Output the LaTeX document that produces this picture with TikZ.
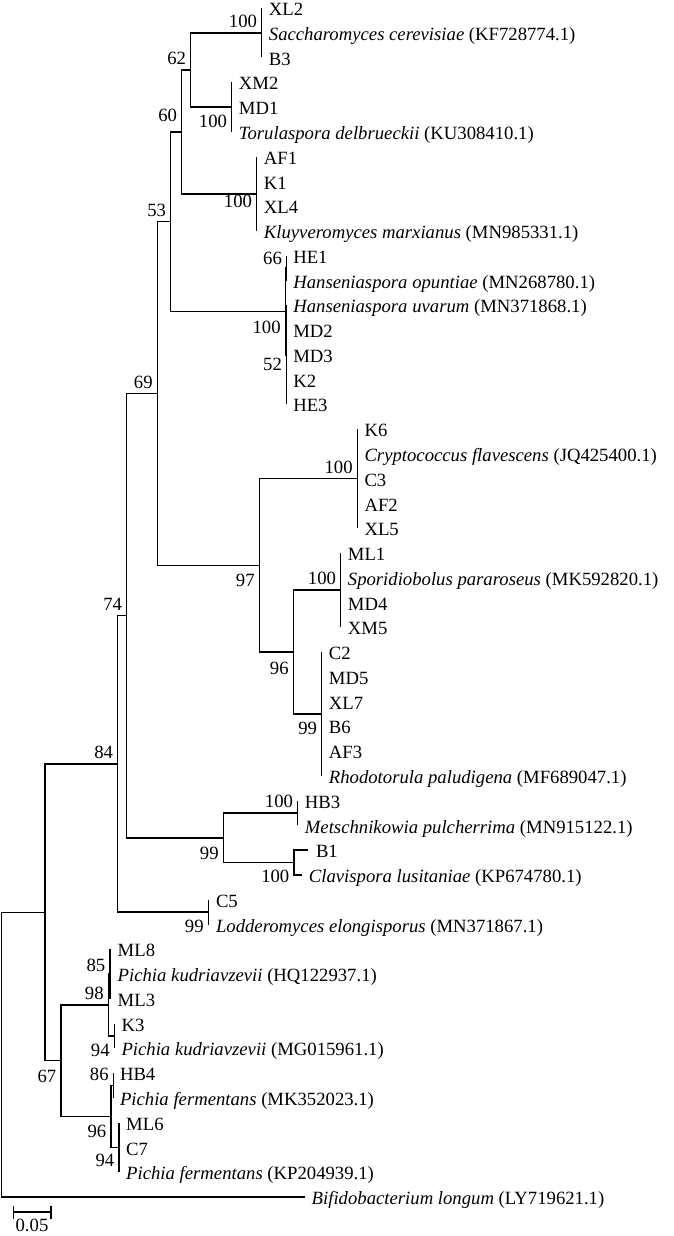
\documentclass[tikz,border=0pt]{standalone}
\usepackage{fontspec}
\setmainfont{Liberation Serif}
\usetikzlibrary{positioning}

\tikzset{
  branch/.style={line width=1.5pt},
  taxon/.style={anchor=west, inner sep=0pt, text height=12.2pt, text depth=0pt,
    font=\fontsize{18.7}{20}\selectfont, yshift=-1.5pt},
  bootup/.style={anchor=south east, inner sep=0pt, text height=12.5pt, text depth=0pt,
    font=\fontsize{18.7}{20}\selectfont, xshift=-4.5pt, yshift=#1},
  bootup/.default=5pt,
  bootdn/.style={anchor=north east, inner sep=0pt, text height=12.5pt, text depth=0pt,
    font=\fontsize{18.7}{20}\selectfont, xshift=-4.5pt, yshift=-#1},
  bootdn/.default=7.5pt,
  scalelab/.style={inner sep=0pt, text height=12.5pt, text depth=0pt,
    font=\fontsize{18.7}{20}\selectfont}
}

\begin{document}
\begin{tikzpicture}[x=1pt, y=-1pt]
\useasboundingbox (0,0) rectangle (673,1236);

% inner nodes of the tree
\coordinate (n0) at (1.7,1054.65);
\coordinate (n45) at (45,912.3);
\coordinate (n84) at (117.7,763.85);
\coordinate (n67) at (61,1060.7);
\coordinate (n74) at (126.7,615.6);
\coordinate (nLod) at (208.3,912.1);
\coordinate (n69) at (157.3,393.45);
\coordinate (n99a) at (223.3,837.8);
\coordinate (n53) at (170.7,221.6);
\coordinate (n97) at (259.3,565.3);
\coordinate (n60) at (181.7,131.85);
\coordinate (nHan) at (285.3,311.4);
\coordinate (n62) at (190.7,69.95);
\coordinate (nKlu) at (256.7,193.75);
\coordinate (nSac) at (261.7,32.8);
\coordinate (nTor) at (231.7,107.1);
\coordinate (n66) at (286.6,268.1);
\coordinate (n52) at (286.6,354.75);
\coordinate (nCry) at (357.3,478.65);
\coordinate (n96) at (293.3,652.0);
\coordinate (nSpo) at (340.7,590.1);
\coordinate (nRho) at (321.7,713.95);
\coordinate (nMet) at (297.7,813.0);
\coordinate (nCla) at (294,862.55);
\coordinate (n98) at (108.3,1005.0);
\coordinate (n85) at (110,974.05);
\coordinate (nPkm) at (114.3,1035.95);
\coordinate (n96f) at (111,1116.45);
\coordinate (n86) at (113.3,1085.5);
\coordinate (n94f) at (119,1147.4);

% leaves
\coordinate (lXL2) at (261.7,8.0);
\node[taxon, right=7pt of lXL2] (XL2) {XL2};
\coordinate (lScer) at (261.7,32.8);
\node[taxon, right=7pt of lScer] (Scer) {\textit{Saccharomyces cerevisiae} (KF728774.1)};
\coordinate (lB3) at (261.7,57.5);
\node[taxon, right=7pt of lB3] (B3) {B3};
\coordinate (lXM2) at (231.7,82.3);
\node[taxon, right=7pt of lXM2] (XM2) {XM2};
\coordinate (lMD1) at (231.7,107.1);
\node[taxon, right=7pt of lMD1] (MD1) {MD1};
\coordinate (lTdel) at (231.7,131.9);
\node[taxon, right=7pt of lTdel] (Tdel) {\textit{Torulaspora delbrueckii} (KU308410.1)};
\coordinate (lAF1) at (256.7,156.6);
\node[taxon, right=7pt of lAF1] (AF1) {AF1};
\coordinate (lK1) at (256.7,181.4);
\node[taxon, right=7pt of lK1] (K1) {K1};
\coordinate (lXL4) at (256.7,206.2);
\node[taxon, right=7pt of lXL4] (XL4) {XL4};
\coordinate (lKmar) at (256.7,230.9);
\node[taxon, right=7pt of lKmar] (Kmar) {\textit{Kluyveromyces marxianus} (MN985331.1)};
\coordinate (lHE1) at (286.6,255.7);
\node[taxon, right=6.5pt of lHE1] (HE1) {HE1};
\coordinate (lHopu) at (286.6,280.5);
\node[taxon, right=6.5pt of lHopu] (Hopu) {\textit{Hanseniaspora opuntiae} (MN268780.1)};
\coordinate (lHuva) at (286.6,305.2);
\node[taxon, right=6.5pt of lHuva] (Huva) {\textit{Hanseniaspora uvarum} (MN371868.1)};
\coordinate (lMD2) at (286.6,330.0);
\node[taxon, right=6.5pt of lMD2] (MD2) {MD2};
\coordinate (lMD3) at (286.6,354.8);
\node[taxon, right=6.5pt of lMD3] (MD3) {MD3};
\coordinate (lK2) at (286.6,379.6);
\node[taxon, right=6.5pt of lK2] (K2) {K2};
\coordinate (lHE3) at (286.6,404.3);
\node[taxon, right=6.5pt of lHE3] (HE3) {HE3};
\coordinate (lK6) at (357.3,429.1);
\node[taxon, right=7pt of lK6] (K6) {K6};
\coordinate (lCfla) at (357.3,453.9);
\node[taxon, right=7pt of lCfla] (Cfla) {\textit{Cryptococcus flavescens} (JQ425400.1)};
\coordinate (lC3) at (357.3,478.6);
\node[taxon, right=7pt of lC3] (C3) {C3};
\coordinate (lAF2) at (357.3,503.4);
\node[taxon, right=7pt of lAF2] (AF2) {AF2};
\coordinate (lXL5) at (357.3,528.2);
\node[taxon, right=7pt of lXL5] (XL5) {XL5};
\coordinate (lML1) at (340.7,552.9);
\node[taxon, right=7pt of lML1] (ML1) {ML1};
\coordinate (lSpar) at (340.7,577.7);
\node[taxon, right=7pt of lSpar] (Spar) {\textit{Sporidiobolus pararoseus} (MK592820.1)};
\coordinate (lMD4) at (340.7,602.5);
\node[taxon, right=7pt of lMD4] (MD4) {MD4};
\coordinate (lXM5) at (340.7,627.3);
\node[taxon, right=7pt of lXM5] (XM5) {XM5};
\coordinate (lC2) at (321.7,652.0);
\node[taxon, right=7pt of lC2] (C2) {C2};
\coordinate (lMD5) at (321.7,676.8);
\node[taxon, right=7pt of lMD5] (MD5) {MD5};
\coordinate (lXL7) at (321.7,701.6);
\node[taxon, right=7pt of lXL7] (XL7) {XL7};
\coordinate (lB6) at (321.7,726.3);
\node[taxon, right=7pt of lB6] (B6) {B6};
\coordinate (lAF3) at (321.7,751.1);
\node[taxon, right=7pt of lAF3] (AF3) {AF3};
\coordinate (lRpal) at (321.7,775.9);
\node[taxon, right=7pt of lRpal] (Rpal) {\textit{Rhodotorula paludigena} (MF689047.1)};
\coordinate (lHB3) at (297.7,800.6);
\node[taxon, right=7pt of lHB3] (HB3) {HB3};
\coordinate (lMpul) at (297.7,825.4);
\node[taxon, right=7pt of lMpul] (Mpul) {\textit{Metschnikowia pulcherrima} (MN915122.1)};
\coordinate (lB1) at (308.3,850.2);
\node[taxon, right=7.5pt of lB1] (B1) {B1};
\coordinate (lClus) at (301.7,874.9);
\node[taxon, right=7pt of lClus] (Clus) {\textit{Clavispora lusitaniae} (KP674780.1)};
\coordinate (lC5) at (208.3,899.7);
\node[taxon, right=7.5pt of lC5] (C5) {C5};
\coordinate (lLelo) at (208.3,924.5);
\node[taxon, right=7.5pt of lLelo] (Lelo) {\textit{Lodderomyces elongisporus} (MN371867.1)};
\coordinate (lML8) at (110,949.3);
\node[taxon, right=7.5pt of lML8] (ML8) {ML8};
\coordinate (lPkudA) at (110,974.0);
\node[taxon, right=7.5pt of lPkudA] (PkudA) {\textit{Pichia kudriavzevii} (HQ122937.1)};
\coordinate (lML3) at (110,998.8);
\node[taxon, right=7.5pt of lML3] (ML3) {ML3};
\coordinate (lK3) at (114.3,1023.6);
\node[taxon, right=7pt of lK3] (K3) {K3};
\coordinate (lPkudB) at (114.3,1048.3);
\node[taxon, right=7pt of lPkudB] (PkudB) {\textit{Pichia kudriavzevii} (MG015961.1)};
\coordinate (lHB4) at (113.3,1073.1);
\node[taxon, right=6.5pt of lHB4] (HB4) {HB4};
\coordinate (lPferA) at (113.3,1097.9);
\node[taxon, right=6.5pt of lPferA] (PferA) {\textit{Pichia fermentans} (MK352023.1)};
\coordinate (lML6) at (119,1122.6);
\node[taxon, right=7pt of lML6] (ML6) {ML6};
\coordinate (lC7) at (119,1147.4);
\node[taxon, right=7pt of lC7] (C7) {C7};
\coordinate (lPferB) at (119,1172.2);
\node[taxon, right=7pt of lPferB] (PferB) {\textit{Pichia fermentans} (KP204939.1)};
\coordinate (lBlon) at (305,1197.0);
\node[taxon, right=6.5pt of lBlon] (Blon) {\textit{Bifidobacterium longum} (LY719621.1)};

% branches
\draw[branch] (n0) |- (n45);
\draw[branch] (n0) |- (lBlon);
\draw[branch] (n45) |- (n84);
\draw[branch] (n45) |- (n67);
\draw[branch] (n84) |- (n74);
\draw[branch] (n84) |- (nLod);
\draw[branch] (n74) |- (n69);
\draw[branch] (n74) |- (n99a);
\draw[branch] (n69) |- (n53);
\draw[branch] (n69) |- (n97);
\draw[branch] (n53) |- (n60);
\draw[branch] (n53) |- (nHan);
\draw[branch] (n60) |- (n62);
\draw[branch] (n60) |- (nKlu);
\draw[branch] (n62) |- (nSac);
\draw[branch] (n62) |- (nTor);
\draw[branch] (nHan) |- (n66);
\draw[branch] (nHan) |- (n52);
\draw[branch] (n97) |- (nCry);
\draw[branch] (n97) |- (n96);
\draw[branch] (n96) |- (nSpo);
\draw[branch] (n96) |- (nRho);
\draw[branch] (n99a) |- (nMet);
\draw[branch] (n99a) |- (nCla);
\draw[branch] (nCla) |- (lB1);
\draw[branch] (nCla) |- (lClus);
\draw[branch] (n67) |- (n98);
\draw[branch] (n67) |- (n96f);
\draw[branch] (n98) |- (n85);
\draw[branch] (n98) |- (nPkm);
\draw[branch] (n96f) |- (n86);
\draw[branch] (n96f) |- (n94f);
\draw[branch] (lXL2) -- (lB3);
\draw[branch] (lXM2) -- (lTdel);
\draw[branch] (lAF1) -- (lKmar);
\draw[branch] (lHE1) -- (lHopu);
\draw[branch] (lHuva) -- (lHE3);
\draw[branch] (lK6) -- (lXL5);
\draw[branch] (lML1) -- (lXM5);
\draw[branch] (lC2) -- (lRpal);
\draw[branch] (lHB3) -- (lMpul);
\draw[branch] (lC5) -- (lLelo);
\draw[branch] (lML8) -- (lML3);
\draw[branch] (lK3) -- (lPkudB);
\draw[branch] (lHB4) -- (lPferA);
\draw[branch] (lML6) -- (lPferB);

% bootstrap values
\node[bootup] (bSac) at (nSac) {100};
\node[bootup] (b62) at (n62) {62};
\node[bootdn] (bTor) at (nTor) {100};
\node[bootup=10pt] (b60) at (n60) {60};
\node[bootdn=1pt] (bKlu) at (nKlu) {100};
\node[bootup] (b53) at (n53) {53};
\node[bootup=3pt] (b66) at (n66) {66};
\node[bootdn=9pt] (bHan) at (nHan) {100};
\node[bootdn=3pt] (b52) at (n52) {52};
\node[bootup] (b69) at (n69) {69};
\node[bootup] (bCry) at (nCry) {100};
\node[bootdn=8.5pt] (b97) at (n97) {97};
\node[bootup] (bSpo) at (nSpo) {100};
\node[bootdn=9.5pt] (b96) at (n96) {96};
\node[bootdn] (bRho) at (nRho) {99};
\node[bootup] (b74) at (n74) {74};
\node[bootup] (b84) at (n84) {84};
\node[bootup] (bMet) at (nMet) {100};
\node[bootdn=9pt] (b99a) at (n99a) {99};
\node[bootdn] (bCla) at (nCla) {100};
\node[bootdn=8pt] (bLod) at (nLod) {99};
\node[bootup=2.5pt] (b85) at (n85) {85};
\node[bootup] (b98) at (n98) {98};
\node[bootdn] (bPkm) at (nPkm) {94};
\node[bootup] (b86) at (n86) {86};
\node[bootdn=9.5pt] (b67) at (n67) {67};
\node[bootdn=8.5pt] (b96f) at (n96f) {96};
\node[bootdn=6pt] (b94f) at (n94f) {94};

% scale bar
\coordinate (sbL) at (13.3,1212);
\coordinate (sbR) at (51,1212);
\draw[branch] (sbL) -- (sbR);
\draw[branch] ([yshift=6.5pt]sbL) -- ([yshift=-6.5pt]sbL);
\draw[branch] ([yshift=6.5pt]sbR) -- ([yshift=-6.5pt]sbR);
\node[scalelab] (sbtxt) at (32,1225) {0.05};

\end{tikzpicture}
\end{document}
